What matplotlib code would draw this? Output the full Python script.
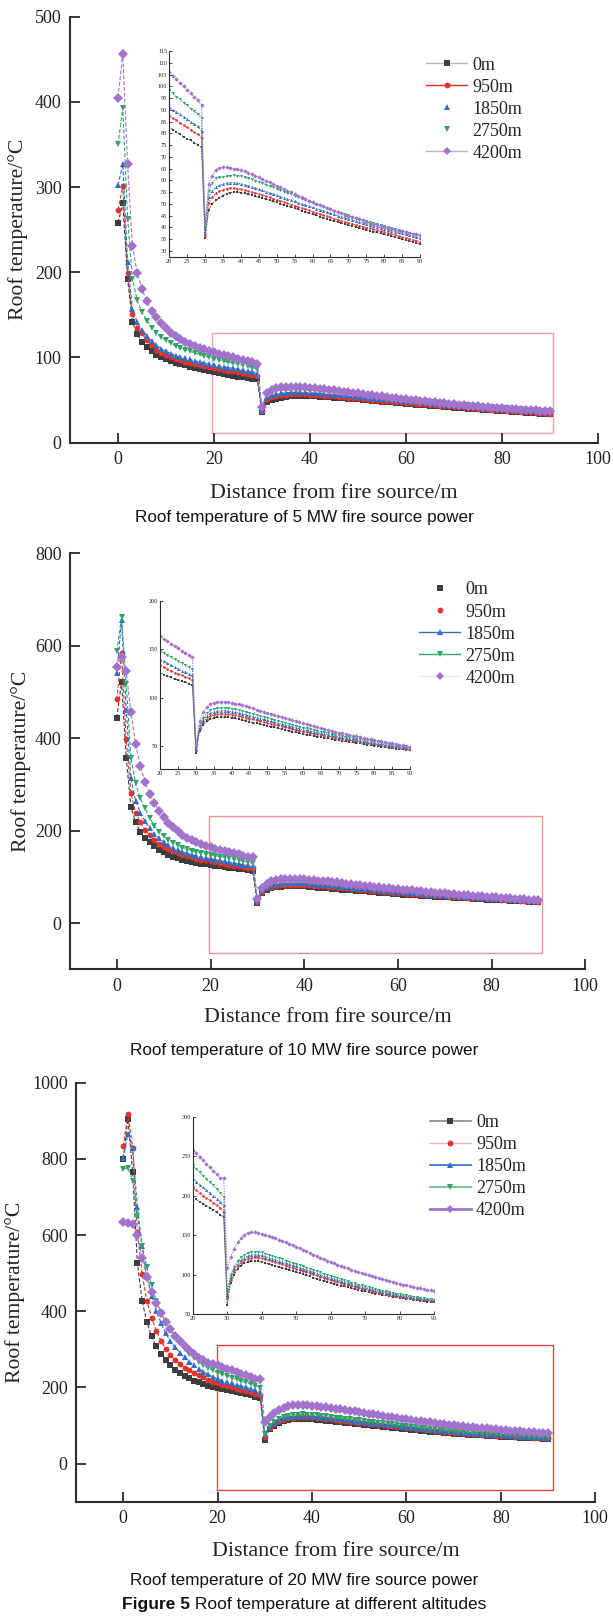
import matplotlib
matplotlib.use("Agg")
import matplotlib.pyplot as plt
from matplotlib.lines import Line2D
from matplotlib.patches import Rectangle
from matplotlib.font_manager import FontProperties

# ---------------------------------------------------------------- data
distance = list(range(0, 91))          # distance from fire source, m
altitudes = ["0m", "950m", "1850m", "2750m", "4200m"]

# 5 MW fire source: roof temperature (degC)
t5_0m = [258, 281, 192, 142, 127, 118, 112, 107, 103, 100,
         97.5, 95.5, 93.5, 92, 90.5, 89, 87.5, 86, 85, 83.5,
         82.5, 81.5, 80.5, 79.5, 78.5, 77.5, 77, 76, 75, 74,
         35.5, 47.5, 50, 51.5, 52.5, 53.5, 54.3, 54.8, 55, 55,
         54.8, 54.4, 54, 53.6, 53.2, 52.8, 52.4, 52, 51.5, 51,
         50.6, 50.1, 49.6, 49.1, 48.6, 48.1, 47.6, 47.1, 46.6, 46.1,
         45.6, 45.1, 44.6, 44.1, 43.6, 43.2, 42.7, 42.3, 41.8, 41.4,
         41, 40.6, 40.2, 39.8, 39.4, 39, 38.6, 38.2, 37.8, 37.4,
         37, 36.6, 36.2, 35.8, 35.4, 35, 34.6, 34.2, 33.8, 33.4,
         33]
t5_950m = [273, 301, 199, 151, 135, 128, 120, 114, 109, 105.5,
           102.5, 100, 98, 96.5, 95, 93.5, 92, 91, 89.5, 88.5,
           87.5, 86.5, 85.5, 84.5, 83.5, 82.5, 81.5, 80.5, 79.5, 78,
           36.5, 50.5, 53, 54.5, 55.3, 56, 56.5, 56.7, 56.7, 56.5,
           56.2, 55.8, 55.4, 55, 54.6, 54.2, 53.7, 53.2, 52.7, 52.2,
           51.7, 51.2, 50.7, 50.2, 49.7, 49.2, 48.7, 48.2, 47.7, 47.2,
           46.7, 46.2, 45.7, 45.2, 44.7, 44.2, 43.7, 43.3, 42.8, 42.4,
           42, 41.5, 41.1, 40.7, 40.3, 39.9, 39.5, 39.1, 38.7, 38.3,
           37.9, 37.5, 37.1, 36.7, 36.3, 35.9, 35.5, 35.1, 34.7, 34.3,
           33.9]
t5_1850m = [302, 327, 212, 157, 141, 132, 125, 119, 114, 110,
            107, 104.5, 102, 100.5, 99, 97.5, 96, 94.5, 93.5, 92,
            91, 90, 89, 88, 87, 86, 85, 84, 83, 81,
            37.5, 53, 55.5, 57, 57.8, 58.4, 58.8, 59, 59, 58.8,
            58.5, 58.1, 57.7, 57.2, 56.7, 56.2, 55.7, 55.2, 54.7, 54.2,
            53.7, 53.1, 52.6, 52.1, 51.5, 51, 50.5, 50, 49.5, 49,
            48.5, 48, 47.5, 47, 46.5, 46, 45.5, 45, 44.5, 44.1,
            43.6, 43.2, 42.7, 42.3, 41.9, 41.4, 41, 40.6, 40.2, 39.8,
            39.4, 39, 38.6, 38.2, 37.8, 37.4, 37, 36.6, 36.2, 35.8,
            35.4]
t5_2750m = [350, 393, 263, 192, 167, 153, 143, 135, 129, 124,
            120, 116.5, 113.5, 111, 109, 107, 105, 103.5, 101.5, 100,
            98.5, 97, 95.5, 94.5, 93, 92, 90.5, 89.5, 88, 86.5,
            39.5, 55.5, 59, 60.8, 61.2, 61.4, 61.7, 62, 62.1, 62,
            61.7, 61.3, 60.9, 60.4, 59.9, 59.4, 58.8, 58.2, 57.6, 57,
            56.4, 55.8, 55.2, 54.6, 54, 53.4, 52.8, 52.2, 51.6, 51,
            50.4, 49.8, 49.3, 48.7, 48.2, 47.6, 47.1, 46.6, 46.1, 45.6,
            45.1, 44.6, 44.1, 43.6, 43.1, 42.7, 42.2, 41.8, 41.3, 40.9,
            40.5, 40.1, 39.7, 39.3, 38.9, 38.5, 38.1, 37.7, 37.3, 36.9,
            36.5]
t5_4200m = [405, 456, 327, 231, 199, 180, 166, 155, 147, 140,
            134, 129, 125, 121.5, 118.5, 116, 113.5, 111.5, 109.5, 107.5,
            106, 104.5, 103, 101.5, 100, 98.5, 97, 95.5, 94, 92,
            42, 58.5, 62, 64.5, 65.3, 65.5, 65.5, 65.3, 65, 64.7,
            64.3, 63.8, 63.2, 62.6, 61.9, 61.2, 60.5, 59.8, 59.1, 58.4,
            57.7, 57, 56.3, 55.6, 54.9, 54.2, 53.5, 52.8, 52.1, 51.4,
            50.7, 50.1, 49.5, 48.9, 48.3, 47.7, 47.1, 46.5, 46, 45.4,
            44.9, 44.4, 43.9, 43.4, 42.9, 42.4, 41.9, 41.5, 41, 40.6,
            40.2, 39.8, 39.4, 39, 38.6, 38.3, 37.9, 37.6, 37.3, 37,
            36.7]

# 10 MW fire source
t10_0m = [444, 522, 357, 252, 218, 198, 185, 175, 166, 159,
          153, 148, 144, 140.5, 137.5, 135, 132.5, 130.5, 128.5, 127,
          125.5, 124, 122.5, 121, 119.5, 118.5, 117, 116, 114.5, 113,
          43, 66, 72, 75.5, 77.5, 79, 79.8, 80, 80, 79.8,
          79.4, 78.6, 77.8, 76.9, 76, 75.2, 74.3, 73.4, 72.6, 71.8,
          71, 70.1, 69.3, 68.4, 67.6, 66.7, 65.9, 65, 64.2, 63.3,
          62.5, 61.8, 61.2, 60.5, 59.9, 59.2, 58.6, 57.9, 57.3, 56.6,
          56, 55.4, 54.9, 54.3, 53.8, 53.2, 52.7, 52.1, 51.6, 51,
          50.5, 50, 49.5, 49, 48.5, 48, 47.5, 47, 46.5, 46,
          45.5]
t10_950m = [484, 584, 398, 281, 239, 218, 202, 190, 180, 172,
            165, 159.5, 155, 151, 147.5, 144.5, 142, 139.5, 137.5, 135.5,
            133.5, 131.5, 129.5, 128, 126, 124.5, 123, 121.5, 120, 118.5,
            45, 68, 75, 78.5, 81, 82.3, 83, 83.3, 83.3, 83,
            82.6, 81.9, 81.1, 80.3, 79.4, 78.5, 77.6, 76.7, 75.8, 74.9,
            74, 73.1, 72.2, 71.3, 70.4, 69.5, 68.6, 67.7, 66.8, 65.9,
            65, 64.3, 63.6, 62.9, 62.2, 61.5, 60.8, 60.1, 59.4, 58.7,
            58, 57.4, 56.8, 56.2, 55.6, 55, 54.4, 53.8, 53.2, 52.6,
            52, 51.5, 50.9, 50.4, 49.8, 49.3, 48.7, 48.2, 47.6, 47.1,
            46.5]
t10_1850m = [540, 655, 462, 313, 265, 239, 220, 205, 193, 183,
             175, 168.5, 163, 158.5, 154.5, 151, 148, 145.5, 143, 141,
             139.5, 137.5, 135.5, 133.5, 131.5, 130, 128, 126.5, 125, 123,
             47, 69, 77, 81, 83.7, 85.2, 86.1, 86.5, 86.5, 86.2,
             85.7, 85, 84.2, 83.3, 82.4, 81.4, 80.4, 79.4, 78.4, 77.5,
             76.5, 75.5, 74.6, 73.6, 72.7, 71.7, 70.8, 69.8, 68.9, 67.9,
             67, 66.2, 65.5, 64.7, 64, 63.2, 62.5, 61.7, 61, 60.2,
             59.5, 58.9, 58.2, 57.6, 56.9, 56.3, 55.6, 55, 54.3, 53.7,
             53, 52.5, 51.9, 51.4, 50.8, 50.3, 49.7, 49.2, 48.6, 48.1,
             47.5]
t10_2750m = [588, 662, 518, 358, 302, 270, 248, 228, 211, 198,
             188, 180, 173.5, 168, 163.5, 160, 157, 154, 151.5, 149.5,
             148, 146, 144, 142, 140, 138, 136, 134, 131.5, 129.5,
             49, 71, 79.5, 84, 87, 88.5, 89.3, 89.6, 89.6, 89.3,
             88.8, 88, 87.2, 86.3, 85.3, 84.2, 83.2, 82.1, 81.1, 80,
             79, 78, 77, 76, 75, 74, 73, 72, 71, 70,
             69, 68.2, 67.4, 66.6, 65.8, 65, 64.2, 63.4, 62.6, 61.8,
             61, 60.3, 59.7, 59, 58.4, 57.7, 57.1, 56.4, 55.8, 55.1,
             54.5, 53.9, 53.3, 52.7, 52.1, 51.5, 50.9, 50.3, 49.7, 49.1,
             48.5]
t10_4200m = [553, 576, 545, 456, 388, 340, 306, 280, 260, 243,
             229, 217, 207, 198.5, 191, 185, 180, 175.5, 171.5, 167.5,
             164, 161, 158.5, 156, 153.5, 151, 148.5, 146, 144, 142,
             52, 76, 85, 90, 93, 94.6, 95.4, 95.7, 95.7, 95.3,
             94.8, 94, 93.1, 92.1, 91.1, 90, 88.9, 87.8, 86.7, 85.6,
             84.5, 83.4, 82.3, 81.2, 80.1, 79, 77.9, 76.8, 75.7, 74.6,
             73.5, 72.5, 71.5, 70.5, 69.5, 68.5, 67.6, 66.7, 65.8, 64.9,
             64, 63.2, 62.4, 61.6, 60.8, 60, 59.3, 58.5, 57.8, 57,
             56.3, 55.6, 54.9, 54.2, 53.5, 52.8, 52.1, 51.5, 50.8, 50.2,
             49.5]

# 20 MW fire source
t20_0m = [800, 905, 766, 527, 428, 372, 335, 308, 288, 272,
          258, 247, 238, 230, 223.5, 218, 213, 208.5, 205, 201.5,
          198.5, 195.5, 192.5, 190, 187.5, 185, 182, 179, 176, 173,
          62, 90, 100, 107, 111.5, 114.5, 116, 117, 117.2, 117,
          116.5, 115.2, 113.9, 112.6, 111.3, 110, 108.7, 107.4, 106.1, 104.8,
          103.5, 102.1, 100.7, 99.3, 97.9, 96.5, 95.2, 93.9, 92.6, 91.3,
          90, 88.8, 87.6, 86.4, 85.2, 84, 83, 82, 81, 80,
          79, 78.1, 77.2, 76.3, 75.4, 74.5, 73.8, 73.1, 72.4, 71.7,
          71, 70.4, 69.7, 69.1, 68.4, 67.8, 67.2, 66.6, 66.1, 65.5,
          65]
t20_950m = [833, 917, 829, 608, 497, 428, 383, 349, 322, 302,
            285, 272, 261, 252, 244.5, 238, 232, 226.5, 220, 215,
            210.5, 207, 203.5, 200, 197, 194, 191, 188, 184, 179.5,
            70, 94, 104, 111, 115.5, 118.5, 120.5, 121.5, 122, 121.8,
            121.2, 119.9, 118.5, 117.2, 115.8, 114.5, 113.1, 111.7, 110.3, 108.9,
            107.5, 106.1, 104.7, 103.3, 101.9, 100.5, 99.1, 97.7, 96.3, 94.9,
            93.5, 92.2, 90.9, 89.6, 88.3, 87, 85.9, 84.8, 83.7, 82.6,
            81.5, 80.5, 79.5, 78.5, 77.5, 76.5, 75.7, 74.9, 74.1, 73.3,
            72.5, 71.8, 71.2, 70.5, 69.9, 69.2, 68.6, 68, 67.5, 66.9,
            66.3]
t20_1850m = [803, 865, 829, 674, 572, 490, 441, 401, 369, 342,
             322, 305, 291, 279, 268, 258, 249, 241, 234, 227.5,
             222, 218, 214, 210.5, 207, 203.5, 200, 196.5, 192.5, 188,
             74, 97, 107, 114, 118.5, 121.5, 123.5, 124.8, 125.3, 125.1,
             124.5, 123.1, 121.7, 120.3, 118.9, 117.5, 116.1, 114.7, 113.3, 111.9,
             110.5, 109, 107.5, 106, 104.5, 103, 101.6, 100.2, 98.8, 97.4,
             96, 94.7, 93.4, 92.1, 90.8, 89.5, 88.3, 87.1, 85.9, 84.7,
             83.5, 82.5, 81.4, 80.4, 79.3, 78.3, 77.4, 76.6, 75.7, 74.9,
             74, 73.3, 72.6, 71.9, 71.2, 70.5, 69.9, 69.3, 68.8, 68.2,
             67.6]
t20_2750m = [773, 777, 743, 650, 572, 515, 468, 428, 396, 372,
             351, 332, 316, 302, 289, 278, 268, 259, 251, 244.5,
             238.5, 234, 229.5, 225, 221, 217, 213, 208.5, 204, 198.5,
             79, 100, 110, 117, 122, 125.3, 127.5, 128.6, 129, 128.8,
             128.2, 126.8, 125.3, 123.9, 122.4, 121, 119.5, 118, 116.5, 115,
             113.5, 112, 110.5, 109, 107.5, 106, 104.5, 103, 101.5, 100,
             98.5, 97.1, 95.7, 94.3, 92.9, 91.5, 90.2, 89, 87.7, 86.5,
             85.2, 84.1, 83, 82, 80.9, 79.8, 78.9, 78, 77.1, 76.2,
             75.3, 74.5, 73.8, 73, 72.3, 71.5, 70.9, 70.2, 69.6, 68.9,
             68.3]
t20_4200m = [635, 631, 629, 599, 540, 491, 450, 422, 395, 373,
             353, 336, 321, 308, 297, 287, 278.5, 271, 265, 261.5,
             258.5, 254, 249.5, 245, 240.5, 236, 231.5, 227, 223, 222,
             108, 122, 133, 141, 146.5, 150.5, 152.8, 154, 154, 153.3,
             152.2, 150.7, 149.2, 147.6, 146.1, 144.5, 142.7, 140.9, 139.1, 137.3,
             135.5, 133.5, 131.5, 129.5, 127.5, 125.5, 123.6, 121.7, 119.8, 117.9,
             116, 114.4, 112.8, 111.2, 109.6, 108, 106.6, 105.2, 103.8, 102.4,
             101, 99.7, 98.4, 97.1, 95.8, 94.5, 93.3, 92.2, 91, 89.8,
             88.6, 87.6, 86.6, 85.7, 84.7, 83.7, 82.8, 81.9, 81.1, 80.2,
             79.3]

# ---------------------------------------------------------------- style
SERIF = ["Liberation Serif", "DejaVu Serif"]
SANS = ["Liberation Sans", "DejaVu Sans"]
plt.rcParams["font.family"] = SERIF
plt.rcParams["axes.unicode_minus"] = False

colors = ["#3d3d3d", "#e5322d", "#2f6dc6", "#2ea468", "#a273cc"]
markers = ["s", "o", "^", "v", "D"]
main_ms = [4.0, 4.2, 4.8, 4.8, 5.2]
inset_ms = [1.8, 1.8, 2.2, 2.2, 2.2]
AX_COLOR = "#2b2b2b"
LEGEND_FONT = FontProperties(family=SERIF, size=13)

W, H = 613, 1618
fig = plt.figure(figsize=(W / 100, H / 100), dpi=100)


def px_axes(left, top, right, bottom, **kw):
    return fig.add_axes([left / W, 1 - bottom / H, (right - left) / W, (bottom - top) / H], **kw)


def style_axes(ax, lw, ticklen, tickw, labelsize, pad):
    for side in ("top", "right"):
        ax.spines[side].set_visible(False)
    for side in ("left", "bottom"):
        ax.spines[side].set_linewidth(lw)
        ax.spines[side].set_color(AX_COLOR)
    ax.tick_params(direction="in", length=ticklen, width=tickw, colors=AX_COLOR,
                   labelsize=labelsize, pad=pad, labelcolor="#222222")


def draw_panel(series, box, ylim, yticks, inset_box, inset_ylim, inset_yticks,
               inset_xticks, rect, rect_color, legend_lines, legend_anchor,
               subtitle, subtitle_y, ylabel_x, xlabel_dy):
    left, top, right, bottom = box
    ax = px_axes(left, top, right, bottom)
    for vals, c, m, ms in zip(series, colors, markers, main_ms):
        ax.plot(distance, vals, color=c, lw=0.8, ls=(0, (3.5, 1.8)),
                marker=m, ms=ms, mfc=c, mec=c, mew=0)
    ax.set_xlim(-10, 100)
    ax.set_ylim(*ylim)
    ax.set_xticks([0, 20, 40, 60, 80, 100])
    ax.set_yticks(yticks)
    style_axes(ax, 1.5, 7, 1.3, 13, 6)

    x0, y0, x1, y1 = rect
    ax.add_patch(Rectangle((x0, y0), x1 - x0, y1 - y0, fill=False,
                           ec=rect_color, lw=1.0, zorder=1))

    ax.set_xlabel("Distance from fire source/m", fontsize=15.8, va="center",
                  color="#222222")
    ax.xaxis.set_label_coords(0.5, -xlabel_dy / (bottom - top))
    ax.set_ylabel("Roof temperature/°C", fontsize=15.6, va="center",
                  color="#222222")
    ax.yaxis.set_label_coords(-(left - ylabel_x) / (right - left), 0.5)

    # legend
    handles = []
    for c, m, (lc, llw) in zip(colors, markers, legend_lines):
        handles.append(Line2D([], [], color=lc if lc else c, lw=llw,
                              ls="-" if lc else "none", marker=m, ms=4.2,
                              mfc=c, mec=c, mew=0))
    lx, ly = legend_anchor
    leg = ax.legend(handles, altitudes, loc="upper left",
                    bbox_to_anchor=(lx / W, 1 - ly / H), bbox_transform=fig.transFigure,
                    frameon=False, prop=LEGEND_FONT, handlelength=2.27,
                    handletextpad=0.28, labelspacing=0.28, borderpad=0,
                    borderaxespad=0)
    for txt in leg.get_texts():
        txt.set_color("#222222")

    # zoomed inset
    il, it, ir, ib = inset_box
    ins = px_axes(il, it, ir, ib)
    ins.patch.set_alpha(0)
    for vals, c, m, ms in zip(series, colors, markers, inset_ms):
        ins.plot(distance, vals, color=c, lw=0.7, ls=(0, (1.5, 1.2)),
                 marker=m, ms=ms, mfc=c, mec=c, mew=0)
    ins.set_xlim(20, 90)
    ins.set_ylim(*inset_ylim)
    ins.set_xticks(inset_xticks)
    ins.set_yticks(inset_yticks)
    style_axes(ins, 0.8, 2.2, 0.6, 4.5, 1.5)

    fig.text(304 / W, 1 - subtitle_y / H, subtitle, family=SANS, fontsize=12.3,
             ha="center", va="center", color="#111111")


legend_p1 = [("#b8b8b8", 1.0), ("#e5322d", 1.0), (None, 0), (None, 0), ("#c6a9e0", 1.0)]
legend_p2 = [(None, 0), (None, 0), ("#2f6dc6", 1.0), ("#2ea468", 1.0), ("#efe6f6", 1.0)]
legend_p3 = [("#8a8a8a", 1.2), ("#f6b6b4", 1.0), ("#2f6dc6", 1.2), ("#5dbb88", 1.2), ("#a273cc", 2.0)]

draw_panel([t5_0m, t5_950m, t5_1850m, t5_2750m, t5_4200m],
           (70, 16.7, 598, 442.5), (0, 500), [0, 100, 200, 300, 400, 500],
           (169.3, 51, 420, 256.7), (27.5, 115), list(range(30, 116, 5)),
           list(range(20, 91, 5)), (19.6, 10.8, 90.7, 128), "#f3a0a0",
           legend_p1, (426.4, 56.5),
           "Roof temperature of 5 MW fire source power", 517.3, 17.7, 50.5)

draw_panel([t10_0m, t10_950m, t10_1850m, t10_2750m, t10_4200m],
           (70, 553.3, 585.3, 969.3), (-100, 800), [0, 200, 400, 600, 800],
           (160.3, 601, 410, 769.3), (26, 200), [50, 100, 150, 200],
           list(range(20, 91, 5)), (19.6, -64, 90.8, 232), "#f29090",
           legend_p2, (419.2, 581.5),
           "Roof temperature of 10 MW fire source power", 1050, 21.3, 48.7)

draw_panel([t20_0m, t20_950m, t20_1850m, t20_2750m, t20_4200m],
           (76, 1082.7, 595.3, 1501.7), (-100, 1000), [0, 200, 400, 600, 800, 1000],
           (192.7, 1116.7, 434, 1314.3), (50, 300), [50, 100, 150, 200, 250, 300],
           list(range(20, 91, 10)), (19.9, -70, 91.1, 311), "#e8403b",
           legend_p3, (430, 1114),
           "Roof temperature of 20 MW fire source power", 1581, 15.1, 50)

# figure caption: bold label followed by regular text, centred as one line
renderer = fig.canvas.get_renderer()
cap_y = 1 - 1605 / H
t_bold = fig.text(0, cap_y, "Figure 5", family=SANS, fontsize=12.5, weight="bold",
                  ha="left", va="center", color="#111111")
t_rest = fig.text(0, cap_y, " Roof temperature at different altitudes", family=SANS,
                  fontsize=12.5, ha="left", va="center", color="#111111")
wb = t_bold.get_window_extent(renderer).width
wr = t_rest.get_window_extent(renderer).width
start = 304.3 - (wb + wr) / 2
t_bold.set_x(start / W)
t_rest.set_x((start + wb) / W)

fig.savefig("out.png", dpi=100)
